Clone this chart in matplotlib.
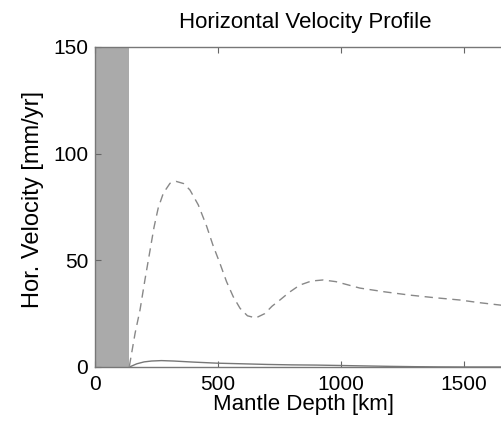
import matplotlib
matplotlib.use("Agg")
import matplotlib.pyplot as plt

plt.rcParams['font.family'] = ['Liberation Sans', 'DejaVu Sans']

# Data
lith_depth = 140  # km, shaded lithosphere band

depth_dashed = [140, 163, 183, 203, 224, 240, 257, 278, 305, 330, 360, 386, 420,
                454, 480, 508, 535, 562, 590, 620, 654, 690, 720, 752, 790, 833,
                880, 928, 980, 1077, 1180, 1280, 1380, 1484, 1560, 1650, 1700]
vel_dashed = [0.5, 15.8, 26.7, 40.8, 54.8, 65.5, 74.5, 81.5, 86.1, 87.0, 86, 83, 76,
              66, 57, 48.6, 40, 33, 27.5, 24, 23, 25, 28.5, 31.4, 35, 38.4,
              40.3, 40.8, 40, 37, 35.2, 33.7, 32.5, 31.4, 30.2, 29, 28.6]

depth_solid = [140, 170, 200, 230, 270, 320, 400, 495, 600, 700, 800, 900, 1000,
               1100, 1200, 1300, 1400, 1500, 1700]
vel_solid = [0, 1.5, 2.4, 2.8, 3.0, 2.8, 2.3, 1.8, 1.5, 1.2, 1.0, 0.9, 0.7,
             0.5, 0.3, 0.15, 0.05, 0, 0]

xticks = [0, 500, 1000, 1500]
yticks = [0, 50, 100, 150]

fig = plt.figure(figsize=(5.02, 4.22), dpi=100)
ax = fig.add_axes([95/502, 55/422, 418/502, 320/422])

ax.axvspan(0, lith_depth, color='#aaaaaa', lw=0, zorder=0)
ax.plot(depth_dashed, vel_dashed, color='#888888', lw=1.0, ls=(0, (6, 4)))
ax.plot(depth_solid, vel_solid, color='#777777', lw=1.0)

ax.set_xlim(0, 1700)
ax.set_ylim(0, 150)
ax.set_xticks(xticks)
ax.set_yticks(yticks)
ax.tick_params(direction='in', length=4, width=0.8, color='#666666',
               top=True, right=True, labelsize=15, pad=5)
ax.tick_params(axis='x', pad=6)
for s in ax.spines.values():
    s.set_color('#777777')
    s.set_linewidth(1.0)

ax.set_xlabel('Mantle Depth [km]', fontsize=16, labelpad=0)
ax.set_ylabel('Hor. Velocity [mm/yr]', fontsize=17)
ax.yaxis.set_label_coords(-0.122, 0.525)
fig.text(305/502, 1 - 28/422, 'Horizontal Velocity Profile', fontsize=16,
         ha='center', va='baseline')

fig.savefig('out.png', dpi=100)
